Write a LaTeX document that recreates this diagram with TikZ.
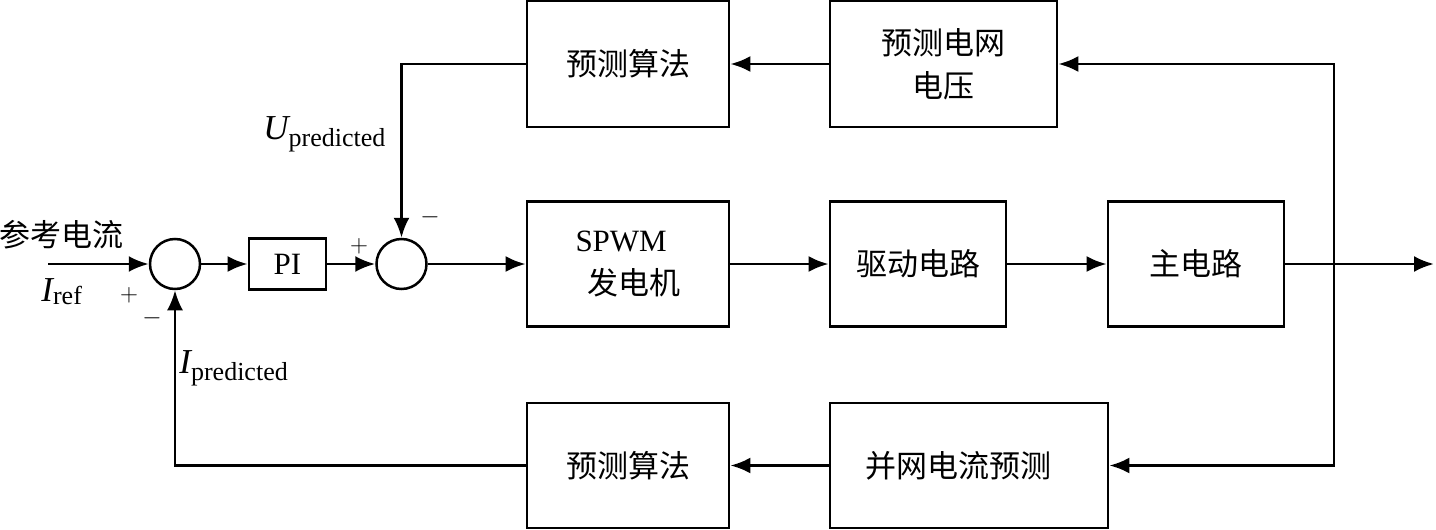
\documentclass[tikz,border=0pt]{standalone}
\usepackage{fontspec}
\setmainfont{Liberation Serif}
\newfontfamily\cjk{Noto Sans CJK SC}
\usetikzlibrary{arrows.meta}
\newcommand*{\xMax}{1436}
\newcommand*{\yMax}{530}
\newcommand*{\yMain}{264}
\newcommand*{\xTap}{1334}
\newcommand{\sig}[3][7pt]{{\fontsize{35}{40}\selectfont\itshape #2}\raisebox{-#1}{\fontsize{26}{30}\selectfont #3}}

\begin{document}
\begin{tikzpicture}[x=1pt, y=-1pt, line width=2.8pt,
    >={Latex[length=20pt,width=16pt]},
    every node/.style={font=\fontsize{31}{43}\selectfont},
    blk/.style={draw, line width=2.8pt, inner sep=0pt, align=center},
    sumnode/.style={draw, circle, line width=2.5pt, minimum size=50pt, inner sep=0pt},
    sgn/.style={inner sep=0pt, font=\fontsize{27}{27}\selectfont}]
    \useasboundingbox (0,0) rectangle (\xMax,\yMax);

% top row
    \node [blk, minimum width=202pt, minimum height=126pt] (algU) at (628,64) {\cjk 预测算法};
    \node [blk, minimum width=227pt, minimum height=126pt] (grid) at (943.5,64) {\cjk 预测电网\\\cjk 电压};

% main row
    \node [sumnode] (sum1) at (175,\yMain) {};
    \node [blk, minimum width=77pt, minimum height=51pt] (pi) at (287.5,\yMain) {PI};
    \node [sumnode] (sum2) at (401.5,\yMain) {};
    \node [blk, minimum width=202pt, minimum height=125pt, align=left] (spwm) at (628,\yMain) {SPWM\\\hspace*{12pt}\cjk 发电机};
    \node [blk, minimum width=176pt, minimum height=125pt] (drive) at (918,\yMain) {\raisebox{2pt}{\cjk 驱动电路}};
    \node [blk, minimum width=176pt, minimum height=125pt] (main) at (1196,\yMain) {\raisebox{-6pt}{\cjk 主电路}};

% bottom row
    \node [blk, minimum width=202pt, minimum height=125pt] (algI) at (628,465.5) {\cjk 预测算法};
    \node [blk, minimum width=278pt, minimum height=125pt] (ipred) at (969,465.5) {\hspace*{-22pt}\cjk 并网电流预测};

% labels
    \node [inner sep=0pt, anchor=west] (reftxt) at (-2,235) {\cjk 参考电流};
    \node [inner sep=0pt, anchor=base west] (iref) at (40,301) {\sig[3pt]{I}{ref}};
    \node [inner sep=0pt, anchor=base west] (upred) at (262,139) {\sig{U}{predicted}};
    \node [inner sep=0pt, anchor=base west] (ipredl) at (178,373) {\sig{I}{predicted}};
    \node [sgn] (p1) at (129,295) {$+$};
    \node [sgn] (m1) at (152,318) {$-$};
    \node [sgn] (p2) at (359,246) {$+$};
    \node [sgn] (m2) at (430,217) {$-$};

    \coordinate (in) at (48,\yMain);
    \coordinate (out) at (1434,\yMain);
    \coordinate (tap) at (\xTap,\yMain);

% forward path
    \draw [->] (in) -- (sum1);
    \foreach \a/\b in {sum1/pi, pi/sum2, sum2/spwm, spwm/drive, drive/main} {
        \draw [->] (\a) -- (\b);
    }
    \draw [->] (main.east) -- (out);

% feedback paths
    \draw [->] (tap) |- (grid.east);
    \draw [->] (tap) |- (ipred.east);
    \draw [->] (grid) -- (algU);
    \draw [->] (ipred) -- (algI);
    \draw [->] (algU.west) -| (sum2.north);
    \draw [->] (algI.west) -| (sum1.south);

\end{tikzpicture}
\end{document}
